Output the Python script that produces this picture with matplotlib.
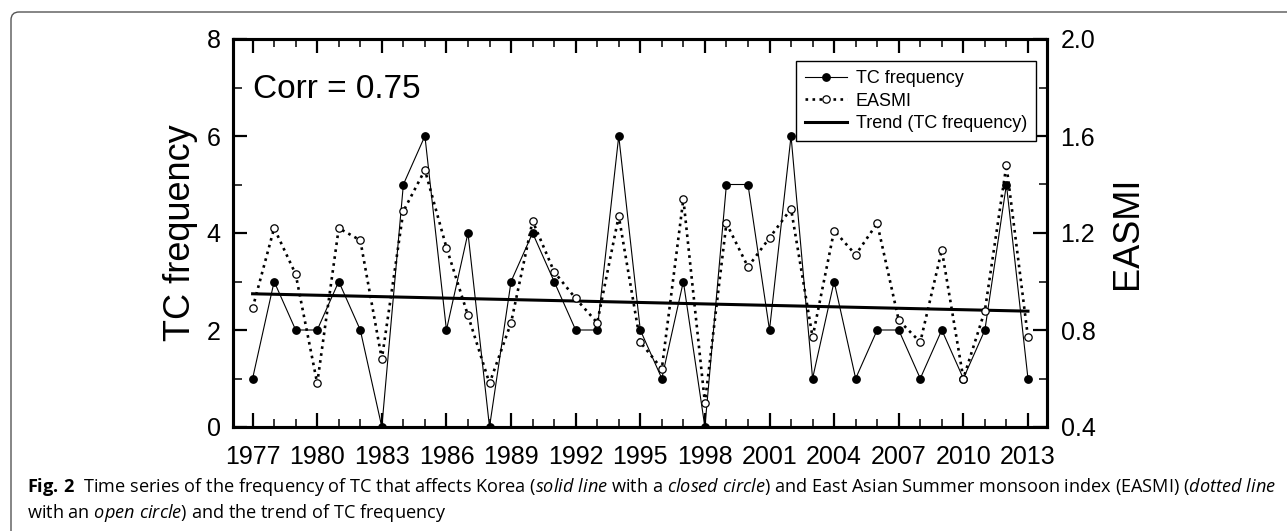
import numpy as np
import matplotlib
matplotlib.use("Agg")
import matplotlib.pyplot as plt
from matplotlib.patches import FancyBboxPatch
from matplotlib.ticker import MultipleLocator, FormatStrFormatter

# data
years = np.arange(1977, 2014)
tc_freq = [1, 3, 2, 2, 3, 2, 0, 5, 6, 2,
           4, 0, 3, 4, 3, 2, 2, 6, 2, 1,
           3, 0, 5, 5, 2, 6, 1, 3, 1, 2,
           2, 1, 2, 1, 2, 5, 1]
easmi = [0.89, 1.22, 1.03, 0.58, 1.22, 1.17, 0.68, 1.29, 1.46, 1.14,
         0.86, 0.58, 0.83, 1.25, 1.04, 0.93, 0.83, 1.27, 0.75, 0.64,
         1.34, 0.50, 1.24, 1.06, 1.18, 1.30, 0.77, 1.21, 1.11, 1.24,
         0.84, 0.75, 1.13, 0.60, 0.88, 1.48, 0.77]
corr_text = "Corr = 0.75"

plt.rcParams['font.family'] = ['Liberation Sans', 'DejaVu Sans']
plt.rcParams['mathtext.fontset'] = 'custom'
plt.rcParams['mathtext.rm'] = 'Open Sans'
plt.rcParams['mathtext.it'] = 'Open Sans:italic'
plt.rcParams['mathtext.bf'] = 'Open Sans:bold'

W, H = 1287, 531
fig = plt.figure(figsize=(W / 100, H / 100), dpi=100)
ax = fig.add_axes([233 / W, 1 - 427 / H, (1046.7 - 233) / W, 388 / H])
ax2 = ax.twinx()

# trend of TC frequency
slope, icpt = np.polyfit(years, tc_freq, 1)
trend = slope * years + icpt

l_tc, = ax.plot(years, tc_freq, '-', color='black', lw=0.8, marker='o',
                ms=5.3, mfc='black', mec='black', label='TC frequency', zorder=3)
l_tr, = ax.plot([years[0], years[-1]], [trend[0], trend[-1]], '-', color='black',
                lw=2.2, label='Trend (TC frequency)', zorder=2)
l_ea, = ax2.plot(years, easmi, linestyle=':', color='black', lw=1.9, marker='o',
                 ms=5.3, mfc='white', mec='black', mew=0.9, label='EASMI', zorder=3)

ax.set_xlim(1976.09, 2013.87)
ax.set_ylim(0, 8)
ax2.set_ylim(0.4, 2.0)

ax.set_xticks(np.arange(1977, 2014, 3))
ax.xaxis.set_minor_locator(MultipleLocator(1))
ax.yaxis.set_major_locator(MultipleLocator(2))
ax.yaxis.set_minor_locator(MultipleLocator(1))
ax2.yaxis.set_major_locator(MultipleLocator(0.4))
ax2.yaxis.set_minor_locator(MultipleLocator(0.2))
ax2.yaxis.set_major_formatter(FormatStrFormatter('%.1f'))

for a in (ax, ax2):
    for s in a.spines.values():
        s.set_linewidth(2.2)
ax.tick_params(axis='x', which='both', direction='in', top=True, bottom=True)
ax.tick_params(axis='x', which='major', length=10, width=1.6, labelsize=18, pad=13)
ax.tick_params(axis='x', which='minor', length=5.5, width=1.1)
ax.tick_params(axis='y', which='both', direction='in', left=True, right=False)
ax.tick_params(axis='y', which='major', length=10, width=1.6, labelsize=18, pad=9)
ax.tick_params(axis='y', which='minor', length=6.5, width=1.1)
ax2.tick_params(axis='y', which='both', direction='in', right=True, left=False)
ax2.tick_params(axis='y', which='major', length=10, width=1.6, labelsize=18, pad=10)
ax2.tick_params(axis='y', which='minor', length=6, width=1.1)

ax.set_ylabel('TC frequency', fontsize=26)
ax.yaxis.set_label_coords(-0.043, 0.5)
ax2.set_ylabel('EASMI', fontsize=26)
ax2.yaxis.set_label_coords(1.078, 0.5)

ax.text(0.024, 0.847, corr_text, transform=ax.transAxes, fontsize=24, va='baseline')

leg = ax2.legend([l_tc, l_ea, l_tr], ['TC frequency', 'EASMI', 'Trend (TC frequency)'],
                 loc='upper right', bbox_to_anchor=(0.987, 0.943), borderaxespad=0,
                 fontsize=13, handlelength=2.3, handletextpad=0.5, labelspacing=0.3,
                 borderpad=0.5, fancybox=False, edgecolor='black', framealpha=1)
leg.get_frame().set_linewidth(1.0)

# frame round the figure (cropped at right and bottom)
fig.add_artist(FancyBboxPatch((11, -30), 1400, H - 12 + 30,
                              boxstyle='round,pad=0,rounding_size=8',
                              fc='none', ec='#555555', lw=1.0, transform=None))

# caption
cap1 = (r"$\mathbf{Fig.\,2}$  Time series of the frequency of TC that affects Korea "
        r"($\mathit{solid\ line}$ with a $\mathit{closed\ circle}$) and East Asian "
        r"Summer monsoon index (EASMI) ($\mathit{dotted\ line}$")
cap2 = r"with an $\mathit{open\ circle}$) and the trend of TC frequency"
size = 12.5
t1 = fig.text(27 / W, 1 - 491.7 / H, cap1, fontsize=size, family='Open Sans', va='baseline')
fig.canvas.draw()
width = t1.get_window_extent().width
size = size * 1251 / width
t1.set_fontsize(size)
fig.text(27 / W, 1 - 518 / H, cap2, fontsize=size, family='Open Sans', va='baseline')

fig.savefig('out.png', dpi=100)
